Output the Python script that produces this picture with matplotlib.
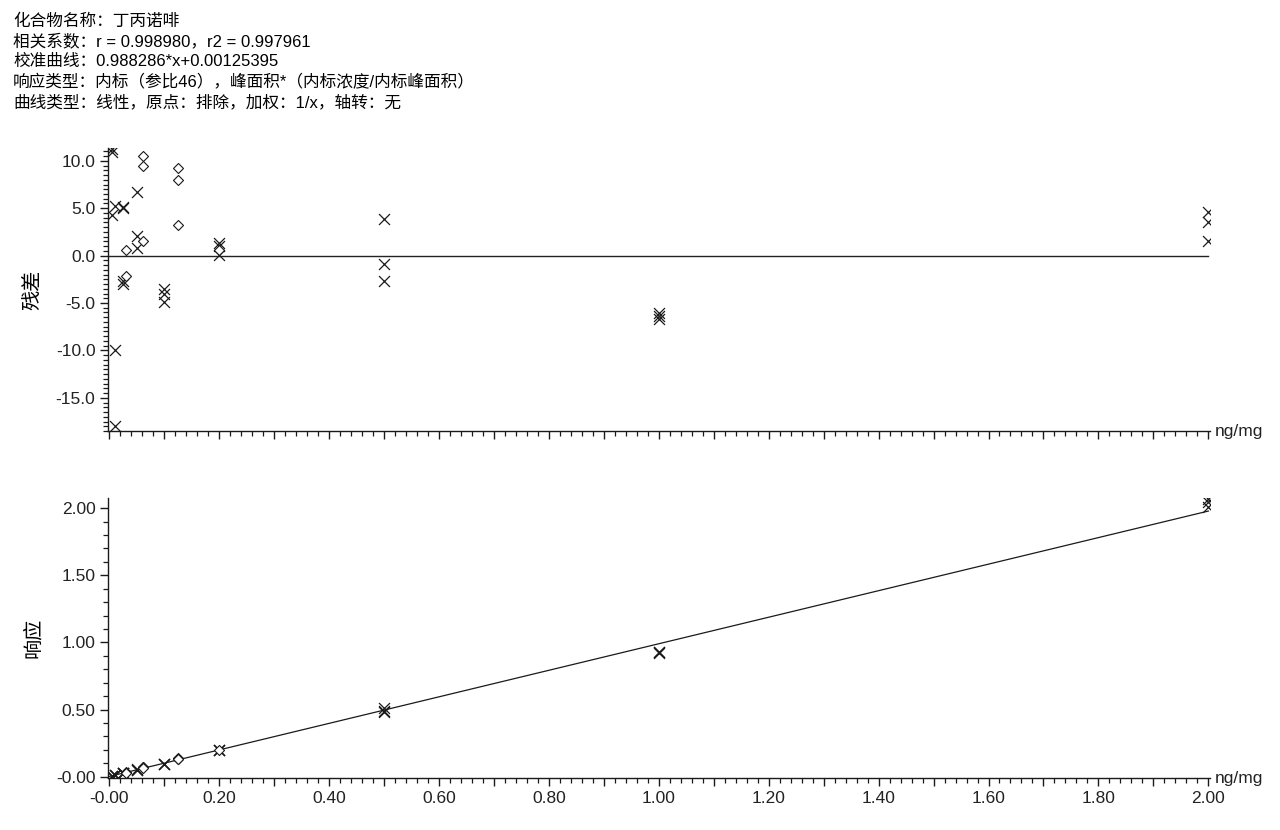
import matplotlib
matplotlib.use("Agg")
import matplotlib.pyplot as plt
from matplotlib.ticker import MultipleLocator, FixedLocator, FuncFormatter

plt.rcParams['font.family'] = ['Liberation Sans', 'Noto Sans CJK SC', 'DejaVu Sans']
plt.rcParams['axes.unicode_minus'] = False

# ---------------- data ----------------
header_lines = [
    "化合物名称：丁丙诺啡",
    "相关系数：r = 0.998980，r2 = 0.997961",
    "校准曲线：0.988286*x+0.00125395",
    "响应类型：内标（参比46），峰面积*（内标浓度/内标峰面积）",
    "曲线类型：线性，原点：排除，加权：1/x，轴转：无",
]
slope = 0.988286
intercept = 0.00125395

# standards (x markers)
std_conc = [0.005, 0.005, 0.005, 0.01, 0.01, 0.01, 0.025, 0.025, 0.025, 0.025,
            0.05, 0.05, 0.05, 0.1, 0.1, 0.1, 0.2, 0.2, 0.2,
            0.5, 0.5, 0.5, 1.0, 1.0, 1.0, 2.0, 2.0, 2.0]
std_resid = [11.2, 10.9, 4.3, 5.2, -10.0, -18.0, 5.1, 5.0, -2.7, -3.0,
             6.7, 2.1, 0.8, -3.5, -4.0, -4.9, 1.3, 1.0, 0.1,
             3.9, -0.9, -2.7, -6.1, -6.4, -6.7, 4.6, 3.5, 1.5]
std_resp = [0.0061, 0.0061, 0.0064, 0.0117, 0.0102, 0.0094, 0.0272, 0.0272, 0.0253, 0.0252,
            0.0540, 0.0517, 0.0511, 0.0966, 0.0961, 0.0952, 0.2015, 0.2009, 0.1993,
            0.5147, 0.4910, 0.4820, 0.9288, 0.9258, 0.9228, 2.0688, 2.0470, 2.0075]

# QC samples (diamond markers)
qc_conc = [0.03, 0.03, 0.0625, 0.0625, 0.0625, 0.125, 0.125, 0.125, 0.2]
qc_resid = [0.6, -2.1, 10.5, 9.5, 1.5, 9.2, 8.0, 3.2, 0.6]
qc_resp = [0.0311, 0.0303, 0.0695, 0.0689, 0.0640, 0.1361, 0.1347, 0.1287, 0.2001]

x_major_ticks = [0.0, 0.2, 0.4, 0.6, 0.8, 1.0, 1.2, 1.4, 1.6, 1.8, 2.0]
x_tick_labels = ["-0.00", "0.20", "0.40", "0.60", "0.80", "1.00",
                 "1.20", "1.40", "1.60", "1.80", "2.00"]
res_ticks = [10.0, 5.0, 0.0, -5.0, -10.0, -15.0]
res_tick_labels = ["10.0", "5.0", "0.0", "-5.0", "-10.0", "-15.0"]
resp_ticks = [0.0, 0.5, 1.0, 1.5, 2.0]
resp_tick_labels = ["-0.00", "0.50", "1.00", "1.50", "2.00"]
line_x = [0.0, 2.0]

# ---------------- figure ----------------
fig = plt.figure(figsize=(12.8, 8.3), dpi=100)
W, H = 1280, 830

def axrect(l, t, r, b):
    return [l / W, 1 - b / H, (r - l) / W, (b - t) / H]

ax1 = fig.add_axes(axrect(108, 148, 1210, 431))
ax2 = fig.add_axes(axrect(108, 498, 1210, 778))

ink = '#1a1a1a'
for ax in (ax1, ax2):
    for s in ('top', 'right'):
        ax.spines[s].set_visible(False)
    for s in ('left', 'bottom'):
        ax.spines[s].set_color(ink)
        ax.spines[s].set_linewidth(1.0)
    ax.set_xlim(-0.002, 2.003)
    ax.xaxis.set_major_locator(MultipleLocator(0.1))
    ax.xaxis.set_minor_locator(MultipleLocator(0.02))
    ax.tick_params(which='major', direction='out', length=6, width=1.0, colors=ink,
                   labelsize=12.5, labelcolor='#222222', pad=3)
    ax.tick_params(which='minor', direction='out', length=3.5, width=0.9, colors=ink)
    ax.text(1.004, 0.0, "ng/mg", transform=ax.transAxes, fontsize=12.5,
            ha='left', va='center', color='#222222')

# residual panel
ax1.axhline(0, xmin=0.001, xmax=(2.0 + 0.002) / 2.005, color='#222222', lw=1.0)
ax1.scatter(std_conc, std_resid, marker='x', s=62, color=ink, linewidths=0.9, zorder=3)
ax1.scatter(qc_conc, qc_resid, marker='D', s=26, facecolors='white', edgecolors=ink,
            linewidths=0.8, zorder=3)
ax1.set_ylim(-18.5, 11.35)
ax1.yaxis.set_major_locator(FixedLocator(res_ticks))
ax1.set_yticklabels(res_tick_labels)
ax1.yaxis.set_minor_locator(MultipleLocator(0.5))
ax1.xaxis.set_major_formatter(FuncFormatter(lambda v, p: ""))
ax1.set_ylabel("残差", fontsize=14.5)
ax1.yaxis.set_label_coords(-0.059, 0.5)

# response panel
line_y = [slope * v + intercept for v in line_x]
ax2.plot(line_x, line_y, color=ink, lw=0.9, zorder=2)
ax2.scatter(std_conc, std_resp, marker='x', s=62, color=ink, linewidths=0.9, zorder=3)
ax2.scatter(qc_conc, qc_resp, marker='D', s=26, facecolors='white', edgecolors=ink,
            linewidths=0.8, zorder=3)
ax2.set_ylim(-0.01, 2.075)
ax2.yaxis.set_major_locator(FixedLocator(resp_ticks))
ax2.set_yticklabels(resp_tick_labels)
ax2.yaxis.set_minor_locator(MultipleLocator(0.1))
ax2.set_ylabel("响应", fontsize=14.5)
ax2.yaxis.set_label_coords(-0.059, 0.5)

lab = {round(t, 2): s for t, s in zip(x_major_ticks, x_tick_labels)}
ax2.xaxis.set_major_formatter(FuncFormatter(lambda v, p: lab.get(round(v, 2), "")))

# header
for i, line in enumerate(header_lines):
    fig.text(13 / W, 1 - (21 + i * 20.3) / H, line, fontsize=12, ha='left',
             va='center', color='#000000')

fig.savefig("out.png", dpi=100)
